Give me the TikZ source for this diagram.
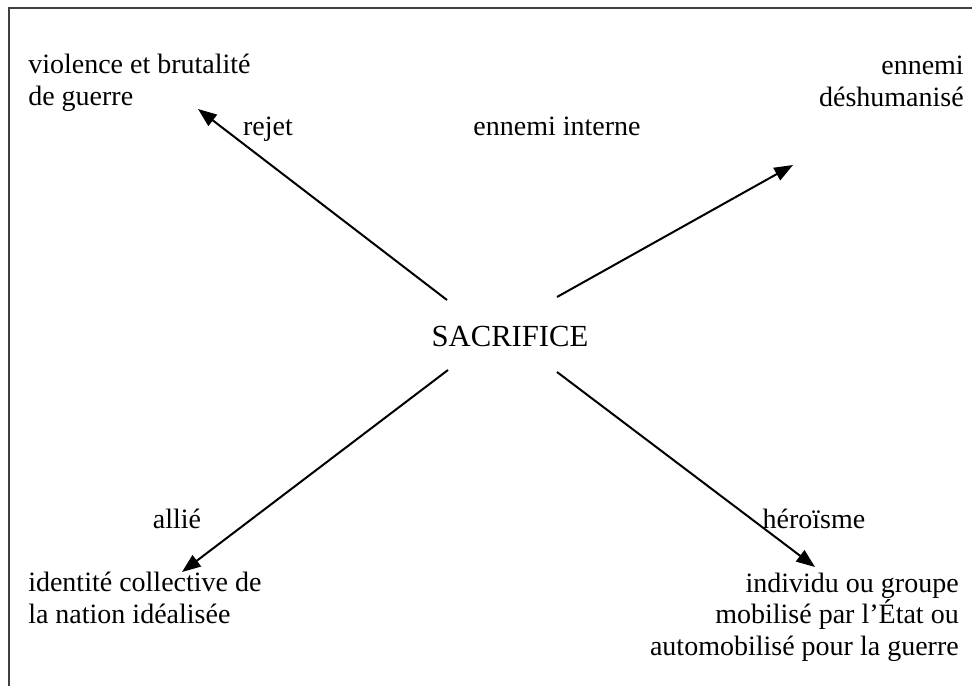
\documentclass[tikz,border=0pt]{standalone}
\usepackage{fontspec}
\setmainfont{Liberation Serif}
\usetikzlibrary{arrows.meta}

\begin{document}
\begin{tikzpicture}[x=0.75pt, y=-0.75pt,
	fleche/.style={line width=1.5pt, -{Triangle[length=14pt, width=10.5pt]}},
	texte/.style={inner sep=0pt, font=\fontsize{21}{23.5}\selectfont},
	cadre/.style={line width=1pt, color=black!75}]
	\useasboundingbox (0,0) rectangle (972,686);
	% frame (only top and left edges are visible)
	\draw[cadre] (9,686) -- (9,8) -- (972,8);
	% centre
	\node[texte, font=\fontsize{23}{26}\selectfont, anchor=base] (sacrifice) at (510,346) {SACRIFICE};
	% the four ends (base = last line)
	\node[texte, anchor=base west, align=left] (violence) at (28,105) {violence et brutalité\\de guerre};
	\node[texte, anchor=base east, align=right] (ennemi) at (964,106) {ennemi\\déshumanisé};
	\node[texte, anchor=base west, align=left] (identite) at (28,623) {identité collective de\\la nation idéalisée};
	\node[texte, anchor=base east, align=right] (individu) at (959,655) {individu ou groupe\\mobilisé par l’État ou\\automobilisé pour la guerre};
	% labels on the arrows
	\node[texte, anchor=base] (rejet) at (268,135) {rejet};
	\node[texte, anchor=base] (interne) at (557,135) {ennemi interne};
	\node[texte, anchor=base] (allie) at (177,528) {allié};
	\node[texte, anchor=base] (heroisme) at (814,528) {héroïsme};
	% arrows
	\coordinate (ul-a) at (447,300);
	\coordinate (ul-b) at (198,109);
	\coordinate (ur-a) at (557,297);
	\coordinate (ur-b) at (793,165);
	\coordinate (ll-a) at (448,370);
	\coordinate (ll-b) at (182,572);
	\coordinate (lr-a) at (557,372);
	\coordinate (lr-b) at (815,567);
	\draw[fleche] (ul-a) -- (ul-b);
	\draw[fleche] (ur-a) -- (ur-b);
	\draw[fleche] (ll-a) -- (ll-b);
	\draw[fleche] (lr-a) -- (lr-b);
\end{tikzpicture}
\end{document}
